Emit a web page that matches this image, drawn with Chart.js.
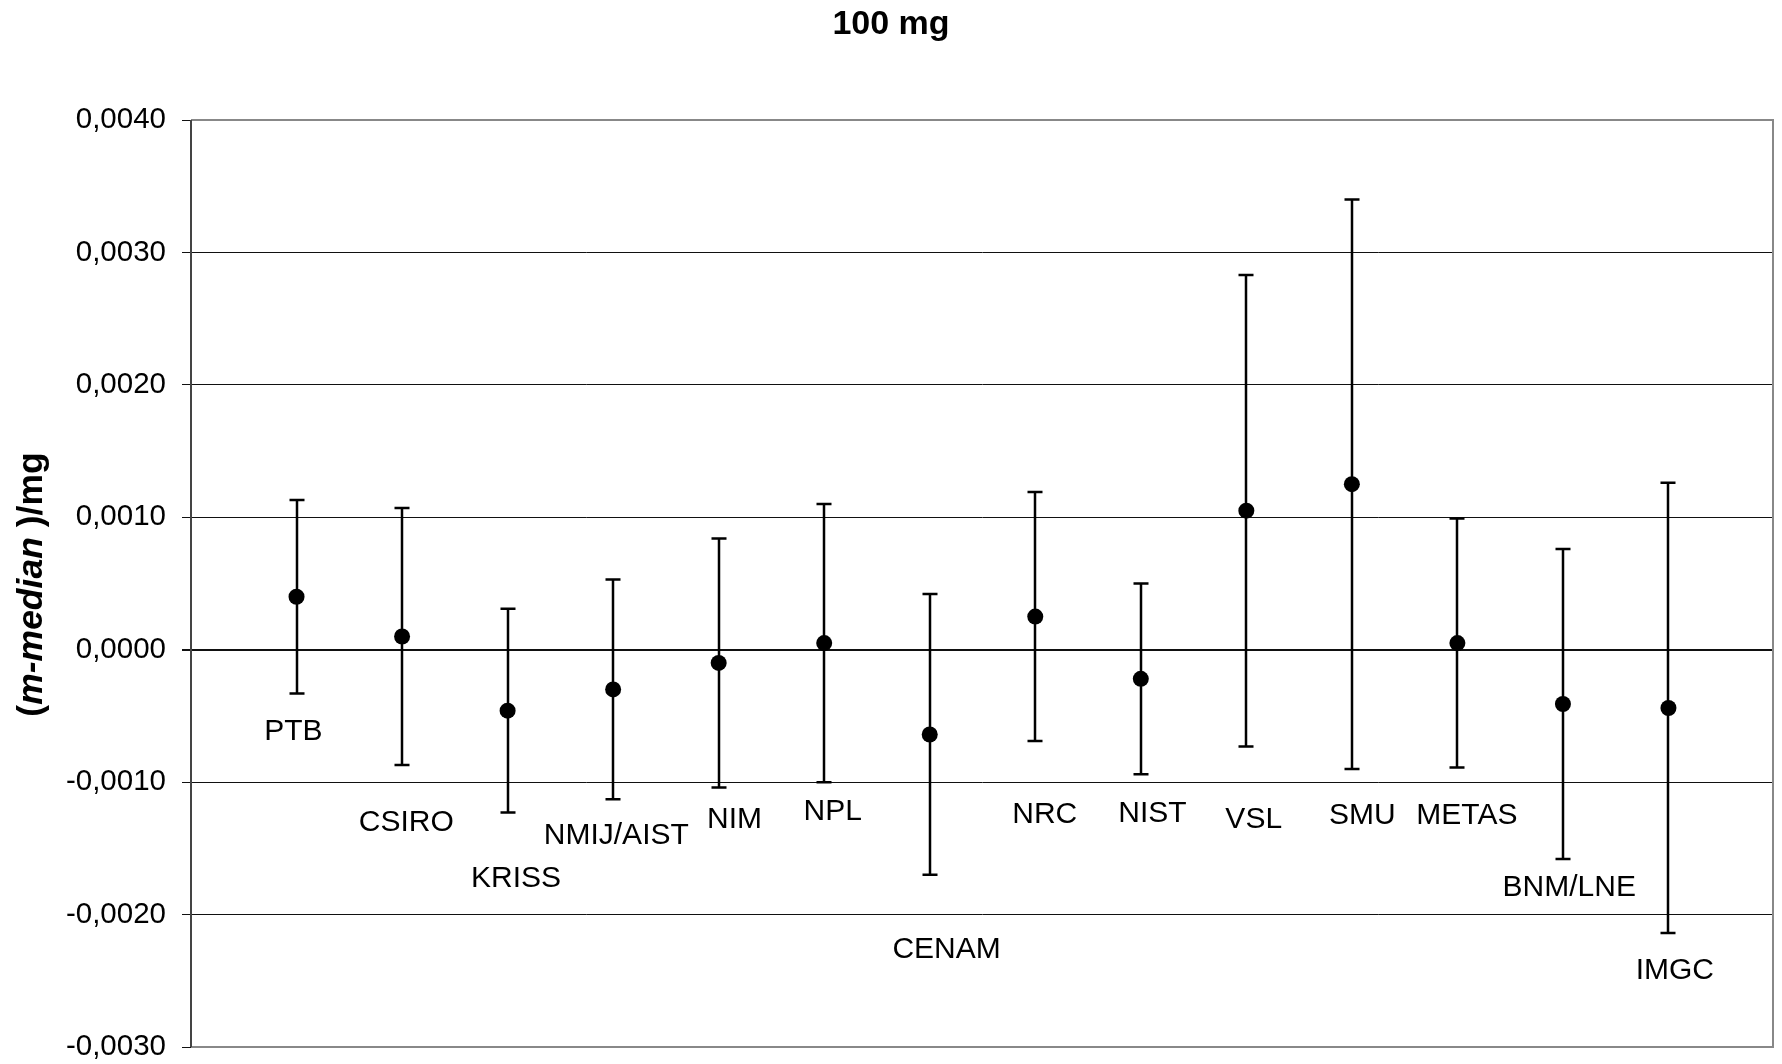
<!DOCTYPE html>
<html>
<head>
<meta charset="utf-8">
<script src="https://cdn.jsdelivr.net/npm/chart.js@4/dist/chart.umd.min.js"></script>
<style>
  html, body { margin: 0; padding: 0; background: #fff; }
  canvas { display: block; }
</style>
</head>
<body>
<canvas id="c" width="1782" height="1064"></canvas>
<script>
// ---- data (values in mg) ----
const chartTitle = '100 mg';
const categories = ['PTB','CSIRO','KRISS','NMIJ/AIST','NIM','NPL','CENAM','NRC','NIST','VSL','SMU','METAS','BNM/LNE','IMGC'];
const positions = [1,2,3,4,5,6,7,8,9,10,11,12,13,14];
const values = [0.00040, 0.00010, -0.00046, -0.00030, -0.00010, 0.00005, -0.00064, 0.00025, -0.00022, 0.00105, 0.00125, 0.00005, -0.00041, -0.00044];
const uncertainty = [0.00073, 0.00097, 0.00077, 0.00083, 0.00094, 0.00105, 0.00106, 0.00094, 0.00072, 0.00178, 0.00215, 0.00094, 0.00117, 0.00170];
// label anchors in data units (x position, y value)
const labelAtX = [0.97, 2.04, 3.08, 4.03, 5.15, 6.08, 7.16, 8.09, 9.11, 10.07, 11.10, 12.09, 13.06, 14.06];
const labelAtY = [-0.000617, -0.001305, -0.001733, -0.001403, -0.001285, -0.001222, -0.002267, -0.001247, -0.001239, -0.001285, -0.001250, -0.001250, -0.001797, -0.002421];
const yMin = -0.003, yMax = 0.004, yStep = 0.001;

const FONT = '"Liberation Sans", Arial, Helvetica, sans-serif';

const points = positions.map((p, i) => ({ x: p, y: values[i] }));

const decorPlugin = {
  id: 'decor',
  beforeDatasetsDraw(chart) {
    const ctx = chart.ctx;
    const xs = chart.scales.x, ys = chart.scales.y;
    ctx.save();
    ctx.strokeStyle = '#000';
    ctx.lineWidth = 2.5;
    positions.forEach((p, i) => {
      const x = Math.round(xs.getPixelForValue(p));
      const yTop = ys.getPixelForValue(values[i] + uncertainty[i]);
      const yBot = ys.getPixelForValue(values[i] - uncertainty[i]);
      ctx.beginPath();
      ctx.moveTo(x, yTop); ctx.lineTo(x, yBot);
      ctx.moveTo(x - 7.5, yTop); ctx.lineTo(x + 7.5, yTop);
      ctx.moveTo(x - 7.5, yBot); ctx.lineTo(x + 7.5, yBot);
      ctx.stroke();
    });
    ctx.restore();
  },
  afterDraw(chart) {
    const ctx = chart.ctx;
    const a = chart.chartArea;
    const xs = chart.scales.x, ys = chart.scales.y;
    ctx.save();
    // frame
    ctx.strokeStyle = '#888';
    ctx.lineWidth = 2;
    ctx.beginPath();
    ctx.moveTo(a.left, a.top); ctx.lineTo(a.right - 1, a.top);
    ctx.lineTo(a.right - 1, a.bottom); ctx.lineTo(a.left, a.bottom);
    ctx.stroke();
    ctx.strokeStyle = '#444';
    ctx.lineWidth = 2;
    ctx.beginPath();
    ctx.moveTo(a.left, a.top); ctx.lineTo(a.left, a.bottom);
    ctx.stroke();

    // category labels
    ctx.fillStyle = '#000';
    ctx.font = '30px ' + FONT;
    ctx.textAlign = 'center';
    ctx.textBaseline = 'middle';
    categories.forEach((c, i) => {
      ctx.fillText(c, xs.getPixelForValue(labelAtX[i]), ys.getPixelForValue(labelAtY[i]));
    });

    // title
    ctx.font = 'bold 34px ' + FONT;
    ctx.textBaseline = 'alphabetic';
    ctx.fillText(chartTitle, chart.width / 2, 34);

    // y axis title with italic part
    const segs = [
      { t: '(', f: 'bold 35.5px ' + FONT },
      { t: 'm-median', f: 'italic bold 35.5px ' + FONT },
      { t: ' )/mg', f: 'bold 35.5px ' + FONT }
    ];
    let total = 0;
    segs.forEach(s => { ctx.font = s.f; s.w = ctx.measureText(s.t).width; total += s.w; });
    ctx.translate(32, (a.top + a.bottom) / 2 + 1);
    ctx.rotate(-Math.PI / 2);
    ctx.textAlign = 'left';
    ctx.textBaseline = 'middle';
    let cx = -total / 2;
    segs.forEach(s => { ctx.font = s.f; ctx.fillText(s.t, cx, 0); cx += s.w; });
    ctx.restore();
  }
};

new Chart(document.getElementById('c'), {
  type: 'scatter',
  data: {
    datasets: [{
      data: points,
      pointRadius: 8,
      pointHoverRadius: 8,
      pointBackgroundColor: '#000',
      pointBorderWidth: 0,
      showLine: false
    }]
  },
  options: {
    responsive: false,
    animation: false,
    devicePixelRatio: 1,
    layout: { padding: { top: 120, right: 4, bottom: 17, left: 0 } },
    plugins: {
      legend: { display: false },
      title: { display: false },
      tooltip: { enabled: false }
    },
    scales: {
      x: {
        type: 'linear',
        min: 0,
        max: positions.length + 1,
        display: false
      },
      y: {
        type: 'linear',
        min: yMin,
        max: yMax,
        afterFit(scale) { scale.width = 191; scale.paddingTop = 0; scale.paddingBottom = 0; },
        border: { display: false },
        grid: {
          color: '#111',
          lineWidth: (ctx) => (ctx.tick && Math.abs(ctx.tick.value) < 1e-9) ? 2 : 1,
          tickLength: 9,
          drawTicks: true
        },
        ticks: {
          stepSize: yStep,
          padding: 16,
          color: '#000',
          font: { family: FONT, size: 29.5 },
          callback: (v) => {
            if (Math.abs(v) < 1e-9) v = 0;
            return v.toFixed(4).replace('.', ',');
          }
        }
      }
    }
  },
  plugins: [decorPlugin]
});
</script>
</body>
</html>
